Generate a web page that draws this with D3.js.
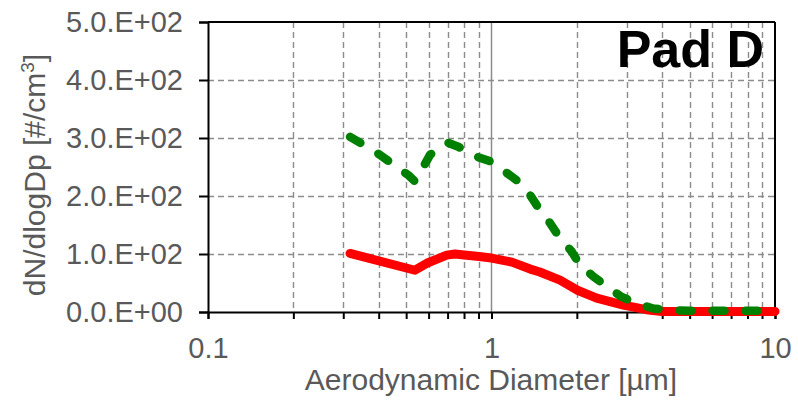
<!DOCTYPE html>
<html>
<head>
<meta charset="utf-8">
<script src="https://cdn.jsdelivr.net/npm/d3@7"></script>
<style>
  html, body { margin: 0; padding: 0; background: #fff; }
  svg { display: block; }
  text { font-family: "Liberation Sans", Arial, Helvetica, sans-serif; }
</style>
</head>
<body>
<svg id="chart" width="798" height="400"></svg>
<script>
// Data
const redDiameters   = [0.317, 0.537, 0.591, 0.695, 0.743, 0.817, 0.887, 1.0, 1.18, 1.37, 1.48, 1.745, 2.0, 2.35, 2.92, 3.52, 4.0, 5.0, 7.0, 10.0];
const redValues      = [101,   72,    84,    98,    100,   98,    96,    93,  86,   74,   69,   55,    38,  24,   12,   4,    1,   1,   1,   1];

const greenDiameters = [0.317, 0.363, 0.404, 0.463, 0.509, 0.537, 0.567, 0.607, 0.70, 0.764, 0.874, 1.0, 1.116, 1.26, 1.367, 1.48, 1.61, 1.745, 1.92, 2.05, 2.29, 2.55, 2.88, 3.25, 3.72, 4.38, 5.0, 7.0, 10.0];
const greenValues    = [302,   285,   271,   250,   236,   225,   245,   271,   292,  285,   269,   259, 242,   223,  202,   176,  153,  127,   104,  81,   61,   44,   26,   15,   6,    3,    2,   2,   2];

const yTickValues = [0, 100, 200, 300, 400, 500];
const yTickLabels = ["0.0.E+00", "1.0.E+02", "2.0.E+02", "3.0.E+02", "4.0.E+02", "5.0.E+02"];
const xTickLabelValues = [0.1, 1, 10];
const xTickLabels = ["0.1", "1", "10"];

const plotL = 208, plotR = 775, plotT = 22, plotB = 312;

const svg = d3.select("#chart");
const x = d3.scaleLog().domain([0.1, 10]).range([plotL, plotR]);
const y = d3.scaleLinear().domain([0, 500]).range([plotB, plotT]);

const allXTicks = x.ticks(); // 0.1,0.2,...,10
const gridColor = "#8c8c8c";
const labelColor = "#595959";

// vertical grid
const g = svg.append("g");
g.selectAll("line.vgrid")
  .data(allXTicks.filter(d => Math.abs(d - 0.1) > 1e-9 && Math.abs(d - 10) > 1e-9))
  .enter().append("line")
  .attr("x1", d => Math.round(x(d)) + 0.5).attr("x2", d => Math.round(x(d)) + 0.5)
  .attr("y1", plotT).attr("y2", plotB)
  .attr("stroke", gridColor)
  .attr("stroke-width", d => Math.abs(d - 1) < 1e-9 ? 1.5 : 1.4)
  .attr("stroke-dasharray", d => Math.abs(d - 1) < 1e-9 ? null : "6,4");

// horizontal grid
g.selectAll("line.hgrid")
  .data(yTickValues.filter(d => d > 0 && d < 500))
  .enter().append("line")
  .attr("x1", plotL).attr("x2", plotR)
  .attr("y1", d => Math.round(y(d)) + 0.5).attr("y2", d => Math.round(y(d)) + 0.5)
  .attr("stroke", gridColor).attr("stroke-width", 1.4)
  .attr("stroke-dasharray", "6,4");

// axes
const yAxis = d3.axisLeft(y).tickValues(yTickValues).tickSize(9).tickFormat((d, i) => yTickLabels[i]).tickPadding(16);
const yg = svg.append("g").attr("transform", `translate(${plotL},0)`).call(yAxis);
yg.select(".domain").attr("stroke", "#000").attr("stroke-width", 2);
yg.selectAll(".tick line").attr("stroke", "#000").attr("stroke-width", 2);
yg.selectAll(".tick text").attr("fill", labelColor).attr("font-size", 29).attr("font-family", "Liberation Sans, Arial, sans-serif");

const xAxis = d3.axisBottom(x).tickValues(allXTicks).tickSize(7)
  .tickFormat(d => { const i = xTickLabelValues.findIndex(v => Math.abs(v - d) < 1e-9); return i >= 0 ? xTickLabels[i] : ""; })
  .tickPadding(18);
const xg = svg.append("g").attr("transform", `translate(0,${plotB})`).call(xAxis);
xg.select(".domain").attr("stroke", "#000").attr("stroke-width", 2);
xg.selectAll(".tick line").attr("stroke", "#000").attr("stroke-width", 2);
xg.selectAll(".tick text").attr("fill", labelColor).attr("font-size", 29).attr("font-family", "Liberation Sans, Arial, sans-serif");

// top and right border
svg.append("line").attr("x1", plotL).attr("x2", plotR).attr("y1", plotT).attr("y2", plotT).attr("stroke", "#000").attr("stroke-width", 2);
svg.append("line").attr("x1", plotR).attr("x2", plotR).attr("y1", plotT).attr("y2", plotB).attr("stroke", "#000").attr("stroke-width", 2);

// series
const line = d3.line().x(d => x(d[0])).y(d => y(d[1]));
svg.append("path")
  .datum(d3.zip(redDiameters, redValues))
  .attr("d", line).attr("fill", "none").attr("stroke", "#ff0000")
  .attr("stroke-width", 9).attr("stroke-linejoin", "round").attr("stroke-linecap", "round");
svg.append("path")
  .datum(d3.zip(greenDiameters, greenValues))
  .attr("d", line).attr("fill", "none").attr("stroke", "#008000")
  .attr("stroke-width", 8.5).attr("stroke-linejoin", "round").attr("stroke-linecap", "round")
  .attr("stroke-dasharray", "12,21");

// axis titles
svg.append("text")
  .attr("x", 491).attr("y", 390)
  .attr("text-anchor", "middle").attr("fill", labelColor).attr("font-size", 30)
  .text("Aerodynamic Diameter [µm]");

const yt = svg.append("text")
  .attr("transform", `translate(45,175) rotate(-90)`)
  .attr("text-anchor", "middle").attr("fill", labelColor).attr("font-size", 30);
yt.append("tspan").text("dN/dlogDp [#/cm");
yt.append("tspan").attr("font-size", 19).attr("dy", -11).text("3");
yt.append("tspan").attr("dy", 11).text("]");

// panel label
svg.append("text")
  .attr("x", 764).attr("y", 67)
  .attr("text-anchor", "end").attr("fill", "#000").attr("font-size", 52).attr("font-weight", "bold")
  .text("Pad D");
</script>
</body>
</html>
